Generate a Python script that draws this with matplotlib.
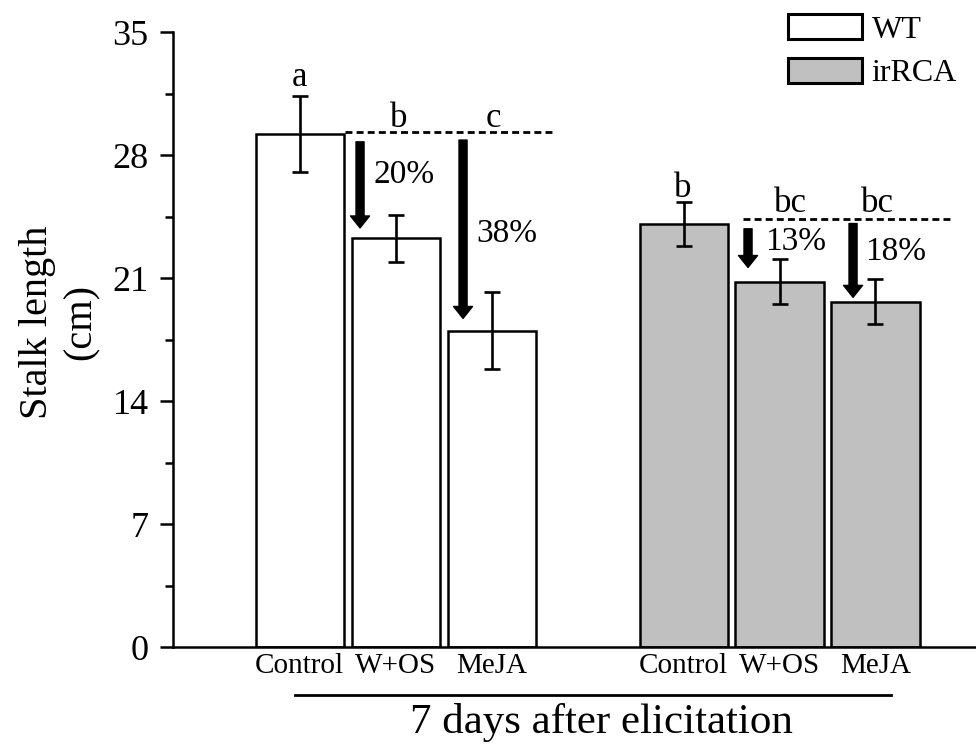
import matplotlib
matplotlib.use("Agg")
import matplotlib.pyplot as plt
from matplotlib.patches import Patch

plt.rcParams['font.family'] = ['Liberation Serif', 'DejaVu Serif']

# data
treatments = ["Control", "W+OS", "MeJA"]
wt_mean = [29.2, 23.25, 18.0]
wt_err = [2.15, 1.35, 2.2]
ir_mean = [24.05, 20.8, 19.65]
ir_err = [1.25, 1.3, 1.28]
wt_letters = ["a", "b", "c"]
ir_letters = ["b", "bc", "bc"]
wt_pct = ["20%", "38%"]
ir_pct = ["13%", "18%"]

wt_x = [0, 1, 2]
ir_x = [4, 5, 6]

fig = plt.figure(figsize=(9.76, 7.46), dpi=100)
ax = fig.add_axes([0.1773, 0.1327, 0.8227, 0.8244])

w = 0.917
ax.bar(wt_x, wt_mean, width=w, color="white", edgecolor="black", linewidth=1.8)
ax.bar(ir_x, ir_mean, width=w, color="#c0c0c0", edgecolor="black", linewidth=1.8)
ax.errorbar(wt_x + ir_x, wt_mean + ir_mean, yerr=wt_err + ir_err, fmt="none",
            ecolor="black", elinewidth=1.9, capsize=5.5, capthick=1.9)

# significance letters
ax.text(0.0, 31.9, wt_letters[0], ha="center", va="baseline", fontsize=25)
ax.text(1.03, 29.6, wt_letters[1], ha="center", va="baseline", fontsize=25)
ax.text(2.02, 29.6, wt_letters[2], ha="center", va="baseline", fontsize=25)
ax.text(3.995, 25.6, ir_letters[0], ha="center", va="baseline", fontsize=25)
ax.text(5.11, 24.75, ir_letters[1], ha="center", va="baseline", fontsize=25)
ax.text(6.02, 24.75, ir_letters[2], ha="center", va="baseline", fontsize=25)

# dashed reference lines at control level
ax.plot([0.474, 2.661], [29.3, 29.3], color="black", lw=2, ls=(0, (2.5, 1.5)))
ax.plot([4.62, 6.797], [24.35, 24.35], color="black", lw=2, ls=(0, (2.5, 1.5)))

# decrease arrows
arr = dict(arrowstyle="simple,head_length=0.86,head_width=1.37,tail_width=0.58",
           color="black", shrinkA=0, shrinkB=0, mutation_scale=10)
ax.annotate("", xy=(0.63, 23.85), xytext=(0.63, 28.75), arrowprops=arr)
ax.annotate("", xy=(1.703, 18.7), xytext=(1.703, 28.85), arrowprops=arr)
ax.annotate("", xy=(4.672, 21.6), xytext=(4.672, 23.8), arrowprops=arr)
ax.annotate("", xy=(5.766, 19.9), xytext=(5.766, 24.1), arrowprops=arr)

ax.text(0.766, 26.4, wt_pct[0], ha="left", va="baseline", fontsize=24)
ax.text(1.839, 23.05, wt_pct[1], ha="left", va="baseline", fontsize=24)
ax.text(4.849, 22.6, ir_pct[0], ha="left", va="baseline", fontsize=24)
ax.text(5.89, 22.0, ir_pct[1], ha="left", va="baseline", fontsize=24)

ax.set_xlim(-1.318, 7.047)
ax.set_ylim(0, 35)
ax.set_yticks([0, 7, 14, 21, 28, 35])
ax.set_yticks([3.5, 10.5, 17.5, 24.5, 31.5], minor=True)
ax.set_xticks(wt_x + ir_x)
ax.set_xticklabels(treatments + treatments)
ax.tick_params(axis="y", which="major", direction="out", length=9.5, width=1.8, labelsize=26, pad=8)
ax.tick_params(axis="y", which="minor", direction="out", length=6, width=1.8)
ax.tick_params(axis="x", length=0, labelsize=21, pad=4)
for s in ["top", "right"]:
    ax.spines[s].set_visible(False)
for s in ["left", "bottom"]:
    ax.spines[s].set_linewidth(1.8)

ax.set_ylabel("Stalk length\n(cm)", fontsize=29, linespacing=1.25)
ax.yaxis.set_label_coords(-0.091, 0.528)

# group line and label under the axis
trans = ax.get_xaxis_transform()
ax.plot([-0.047, 6.16], [-0.078, -0.078], color="black", lw=2, transform=trans, clip_on=False)
ax.text(3.14, -0.14, "7 days after elicitation", transform=trans, ha="center", va="baseline", fontsize=31)

handles = [Patch(facecolor="white", edgecolor="black", linewidth=2.2),
           Patch(facecolor="#c0c0c0", edgecolor="black", linewidth=2.2)]
fig.legend(handles, ["WT", "irRCA"], loc="upper left", bbox_to_anchor=(788 / 976, 1 - 14 / 746),
           frameon=False, fontsize=23, handlelength=2.32, handleheight=0.85,
           labelspacing=0.4, handletextpad=0.3, borderpad=0, borderaxespad=0)

fig.savefig("out.png", dpi=100)
